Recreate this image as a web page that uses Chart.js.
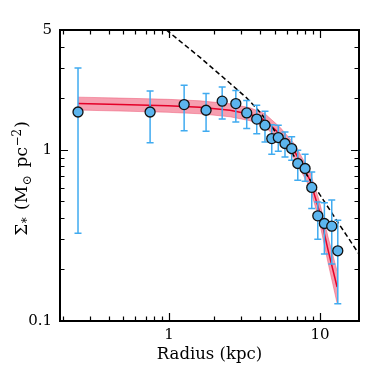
<!DOCTYPE html>
<html>
<head>
<meta charset="utf-8">
<script src="https://cdn.jsdelivr.net/npm/chart.js@4.4.1/dist/chart.umd.min.js"></script>
<style>
  body { margin: 0; background: #fff; }
  #chart { display: block; }
</style>
</head>
<body>
<canvas id="chart" width="374" height="374"></canvas>
<script>
// observed profile (kpc, Msun/pc^2)
const radius = [0.25, 0.75, 1.26, 1.76, 2.25, 2.77, 3.27, 3.81, 4.32, 4.79, 5.29, 5.86, 6.49, 7.12, 7.96, 8.81, 9.66, 10.68, 11.95, 13.1];
const sigma = [1.66, 1.66, 1.835, 1.70, 1.92, 1.86, 1.64, 1.51, 1.39, 1.162, 1.178, 1.087, 1.016, 0.831, 0.777, 0.602, 0.411, 0.371, 0.358, 0.257];
const sigmaHigh = [3.0, 2.20, 2.38, 2.13, 2.32, 2.22, 1.94, 1.82, 1.68, 1.40, 1.39, 1.27, 1.19, 0.993, 0.941, 0.742, 0.496, 0.490, 0.508, 0.388];
const sigmaLow = [0.325, 1.10, 1.29, 1.28, 1.51, 1.45, 1.33, 1.24, 1.11, 0.941, 0.98, 0.908, 0.869, 0.664, 0.655, 0.454, 0.300, 0.246, 0.215, 0.126];

// model fit and its band
const modelR = [0.25, 0.474, 0.985, 1.604, 2.535, 3.44, 4.32, 5.435, 6.83, 8.585, 9.85, 11.3, 12.96];
const modelSigma = [1.859, 1.835, 1.805, 1.769, 1.699, 1.611, 1.486, 1.231, 0.967, 0.664, 0.444, 0.259, 0.158];
const modelHigh = [2.028, 2.002, 1.969, 1.930, 1.854, 1.758, 1.621, 1.352, 1.070, 0.739, 0.508, 0.309, 0.196];
const modelLow = [1.704, 1.682, 1.654, 1.621, 1.557, 1.477, 1.362, 1.121, 0.874, 0.597, 0.388, 0.218, 0.127];

// dashed reference curve
const refR = [0.96, 1.604, 2.535, 3.286, 4.006, 6.327, 8.99, 12.96, 18.1];
const refSigma = [5.0, 3.462, 2.442, 1.997, 1.654, 0.993, 0.629, 0.383, 0.246];

const xTickValues = [0.2, 0.3, 0.4, 0.5, 0.6, 0.7, 0.8, 0.9, 1, 2, 3, 4, 5, 6, 7, 8, 9, 10];
const xTickLabels = [1, 10];
const yTickValues = [0.1, 0.2, 0.3, 0.4, 0.5, 0.6, 0.7, 0.8, 0.9, 1, 2, 3, 4, 5];
const yTickLabels = [0.1, 1, 5];

const toPoints = (xs, ys) => xs.map((v, i) => ({ x: v, y: ys[i] }));

const serif = "'DejaVu Serif', serif";

// error bars, drawn just before the points
const errorBars = {
  id: "errorBars",
  beforeDatasetDraw(chart, args) {
    if (args.index !== 4) return;
    const { ctx, scales: { x, y } } = chart;
    ctx.save();
    ctx.strokeStyle = "#40abf0";
    ctx.lineWidth = 1.5;
    radius.forEach((r, i) => {
      const px = x.getPixelForValue(r);
      const top = y.getPixelForValue(sigmaHigh[i]);
      const bot = y.getPixelForValue(sigmaLow[i]);
      ctx.beginPath();
      ctx.moveTo(px, top);
      ctx.lineTo(px, bot);
      ctx.moveTo(px - 3.5, top);
      ctx.lineTo(px + 3.5, top);
      ctx.moveTo(px - 3.5, bot);
      ctx.lineTo(px + 3.5, bot);
      ctx.stroke();
    });
    ctx.restore();
  },
};

// box frame with inward ticks on all four sides
const frame = {
  id: "frame",
  afterDraw(chart) {
    const { ctx, chartArea: a, scales: { x, y } } = chart;
    ctx.save();
    ctx.strokeStyle = "#000";
    ctx.lineWidth = 1.2;
    ctx.beginPath();
    x.ticks.forEach((t) => {
      const px = Math.round(x.getPixelForValue(t.value)) + 0.5;
      const len = xTickLabels.includes(t.value) ? 8 : 4.5;
      ctx.moveTo(px, a.bottom);
      ctx.lineTo(px, a.bottom - len);
      ctx.moveTo(px, a.top);
      ctx.lineTo(px, a.top + len);
    });
    y.ticks.forEach((t) => {
      const py = Math.round(y.getPixelForValue(t.value)) + 0.5;
      const len = yTickLabels.includes(t.value) ? 8 : 4.5;
      ctx.moveTo(a.left, py);
      ctx.lineTo(a.left + len, py);
      ctx.moveTo(a.right, py);
      ctx.lineTo(a.right - len, py);
    });
    ctx.stroke();
    ctx.lineWidth = 2;
    ctx.strokeRect(a.left, a.top, a.right - a.left, a.bottom - a.top);
    ctx.restore();
  },
};

// y axis title with sub/superscripts
const yTitle = {
  id: "yTitle",
  afterDraw(chart) {
    const { ctx, chartArea: a } = chart;
    const parts = [
      { t: "Σ", s: 0, gap: 0.5 },
      { t: "*", s: 1, gap: 2 },
      { t: " (M", s: 0, gap: 0.5 },
      { t: "⊙", s: 1, gap: 2.5 },
      { t: " pc", s: 0, gap: 0.5 },
      { t: "−2", s: -1, gap: 1 },
      { t: ")", s: 0, gap: 0 },
    ];
    const big = "17px " + serif;
    const small = "12px " + serif;
    ctx.save();
    let total = 0;
    parts.forEach((p) => {
      ctx.font = p.s ? small : big;
      p.w = ctx.measureText(p.t).width + p.gap;
      total += p.w;
    });
    ctx.translate(27, (a.top + a.bottom) / 2 + 3);
    ctx.rotate(-Math.PI / 2);
    ctx.fillStyle = "#000";
    ctx.textBaseline = "alphabetic";
    let cx = -total / 2;
    parts.forEach((p) => {
      ctx.font = p.s ? small : big;
      const dy = p.s === 1 ? 4 : p.s === -1 ? -6.5 : 0;
      ctx.fillText(p.t, cx, dy);
      cx += p.w;
    });
    ctx.restore();
  },
};

new Chart(document.getElementById("chart"), {
  type: "scatter",
  data: {
    datasets: [
      {
        data: toPoints(modelR, modelHigh),
        showLine: true,
        pointRadius: 0,
        borderColor: "rgba(235, 70, 100, 0.55)",
        borderWidth: 0.8,
        backgroundColor: "rgba(236, 55, 90, 0.48)",
        fill: "+1",
        order: 4,
      },
      {
        data: toPoints(modelR, modelLow),
        showLine: true,
        pointRadius: 0,
        borderColor: "rgba(235, 70, 100, 0.55)",
        borderWidth: 0.8,
        fill: false,
        order: 5,
      },
      {
        data: toPoints(modelR, modelSigma),
        showLine: true,
        pointRadius: 0,
        borderColor: "rgb(228, 0, 40)",
        borderWidth: 1.5,
        fill: false,
        order: 3,
      },
      {
        data: toPoints(refR, refSigma),
        showLine: true,
        pointRadius: 0,
        borderColor: "#000",
        borderWidth: 1.5,
        borderDash: [5, 3],
        fill: false,
        order: 2,
      },
      {
        data: toPoints(radius, sigma),
        pointRadius: 5,
        pointBorderWidth: 1.3,
        pointBorderColor: "#111",
        pointBackgroundColor: "#5cb5ee",
        order: 1,
      },
    ],
  },
  options: {
    responsive: false,
    animation: false,
    devicePixelRatio: 1,
    layout: { padding: { top: 30, right: 15, left: 0, bottom: 0 } },
    plugins: { legend: { display: false }, tooltip: { enabled: false } },
    scales: {
      x: {
        type: "logarithmic",
        min: 0.19,
        max: 18.1,
        bounds: "data",
        grid: { display: false, drawTicks: false },
        border: { display: false },
        afterBuildTicks: (s) => {
          s.ticks = xTickValues.map((v) => ({ value: v }));
        },
        afterFit: (s) => {
          s.height = 53;
        },
        ticks: {
          autoSkip: false,
          maxRotation: 0,
          padding: 5,
          color: "#000",
          font: { family: serif, size: 15 },
          callback: (v) => (xTickLabels.includes(v) ? String(v) : ""),
        },
        title: {
          display: true,
          text: "Radius (kpc)",
          color: "#000",
          font: { family: serif, size: 16.5 },
          padding: { top: 0, bottom: 9 },
        },
      },
      y: {
        type: "logarithmic",
        min: 0.1,
        max: 5,
        bounds: "data",
        grid: { display: false, drawTicks: false },
        border: { display: false },
        afterBuildTicks: (s) => {
          s.ticks = yTickValues.map((v) => ({ value: v }));
        },
        afterFit: (s) => {
          s.width = 60;
        },
        ticks: {
          autoSkip: false,
          padding: 8,
          color: "#000",
          font: { family: serif, size: 15 },
          callback: (v) => (yTickLabels.includes(v) ? String(v) : ""),
        },
      },
    },
  },
  plugins: [errorBars, frame, yTitle],
});
</script>
</body>
</html>
